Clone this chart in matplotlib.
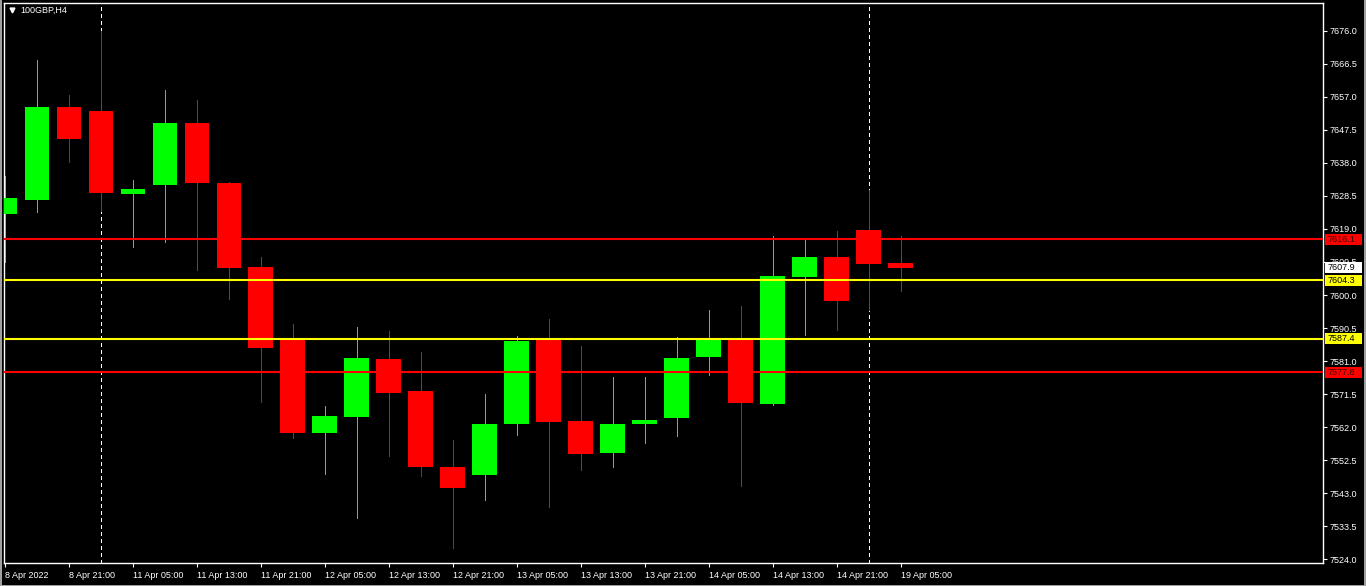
import numpy as np
import matplotlib.pyplot as plt
from matplotlib.patches import Rectangle
import matplotlib.transforms as mtransforms

# --- data: 4H candles ---
opens = [7623.4, 7627.3, 7654.1, 7653.0, 7629.1, 7631.7, 7649.5, 7632.2, 7608.1, 7587.0,
         7560.3, 7564.9, 7581.6, 7572.4, 7550.5, 7548.2, 7562.9, 7587.6, 7563.7, 7554.5,
         7562.9, 7564.6, 7582.2, 7587.6, 7568.6, 7605.2, 7610.9, 7618.7, 7609.2]
highs = [7634.3, 7667.6, 7657.6, 7676.0, 7633.1, 7659.0, 7656.1, 7632.5, 7610.9, 7591.7,
         7568.0, 7590.8, 7589.6, 7583.6, 7558.3, 7571.5, 7588.2, 7593.1, 7585.3, 7576.4,
         7576.4, 7587.9, 7595.7, 7596.8, 7617.0, 7615.8, 7618.4, 7630.2, 7617.0]
lows = [7609.6, 7623.9, 7638.3, 7624.2, 7613.8, 7615.3, 7607.2, 7598.8, 7569.2, 7558.8,
        7548.5, 7535.8, 7553.7, 7547.9, 7527.2, 7541.0, 7559.7, 7539.0, 7549.6, 7550.5,
        7557.4, 7559.4, 7577.0, 7545.0, 7568.4, 7588.5, 7589.9, 7595.7, 7601.2]
closes = [7627.9, 7654.1, 7644.9, 7629.4, 7630.5, 7649.5, 7632.2, 7607.8, 7584.7, 7560.3,
          7565.2, 7581.9, 7571.8, 7550.5, 7544.4, 7562.9, 7586.8, 7563.4, 7554.2, 7562.9,
          7564.0, 7581.9, 7587.6, 7568.9, 7605.5, 7610.9, 7598.3, 7608.9, 7607.9]

date_labels = ["8 Apr 2022", "8 Apr 21:00", "11 Apr 05:00", "11 Apr 13:00", "11 Apr 21:00",
               "12 Apr 05:00", "12 Apr 13:00", "12 Apr 21:00", "13 Apr 05:00", "13 Apr 13:00",
               "13 Apr 21:00", "14 Apr 05:00", "14 Apr 13:00", "14 Apr 21:00", "19 Apr 05:00"]

# horizontal levels (price, colour)
levels = [7616.1, 7604.3, 7587.4, 7577.8]
level_colors = ["#ff0000", "#ffff00", "#ffff00", "#ff0000"]
last_price = 7607.9
separators = [3, 27]  # candles with the dashed vertical lines

y_ticks = np.arange(7524.0, 7676.1, 9.5)

GREEN = "#00ff00"
RED = "#ff0000"
FONT = "Liberation Sans"
FS = 6.5

W, H = 1366, 586
fig = plt.figure(figsize=(W / 100, H / 100), dpi=100, facecolor="black")
ax = fig.add_axes([4 / W, 1 - 563 / H, (1323 - 4) / W, (563 - 3) / H])
ax.set_facecolor("black")

x = np.arange(len(opens))
o = np.array(opens)
c = np.array(closes)
cols = [GREEN if cc >= oo else RED for oo, cc in zip(o, c)]

# wicks then bodies, 1 px wicks like the terminal
ax.vlines(x, lows, highs, colors=cols, linewidth=0.72, antialiased=False, zorder=2)
ax.bar(x, np.abs(c - o), bottom=np.minimum(o, c), width=0.78, color=cols,
       linewidth=0, antialiased=False, zorder=3)

for lv, col in zip(levels, level_colors):
    ax.axhline(lv, color=col, linewidth=1.5, zorder=4)

for s in separators:
    ax.axvline(s, color="white", linewidth=0.72, linestyle=(0, (4, 4)),
               antialiased=False, zorder=1)

ax.set_xlim(-0.031, 41.19)
ax.set_ylim(7522.86, 7684.05)

# axes, ticks
for sp in ax.spines.values():
    sp.set_color("white")
    sp.set_linewidth(1)
ax.yaxis.tick_right()
ax.set_yticks(y_ticks)
ax.set_yticklabels([f"{v:.1f}" for v in y_ticks], fontname=FONT, fontsize=FS)
ax.set_xticks(x[::2])
ax.set_xticklabels(date_labels, fontname=FONT, fontsize=FS, ha="left")
ax.tick_params(axis="both", colors="white", length=3, width=0.8, direction="out", pad=2)
ax.tick_params(axis="x", pad=3)

# price label boxes on the right axis
trans = mtransforms.blended_transform_factory(ax.transAxes, ax.transData)
box_x = (1325 - 4) / 1319
box_w = 37 / 1319
box_h = 11 / 3.474
tags = list(zip(levels, level_colors, ["#400000", "black", "black", "#400000"]))
tags.append((last_price, "white", "black"))
for val, face, tcol in tags:
    ax.add_patch(Rectangle((box_x, val - box_h / 2), box_w, box_h, transform=trans,
                           facecolor=face, edgecolor="none", clip_on=False, zorder=6))
    ax.text(box_x + 3 / 1319, val, f"{val:.1f}", transform=trans, color=tcol,
            fontname=FONT, fontsize=FS, va="center", ha="left", zorder=7, clip_on=False)

# symbol caption
ax.plot([8 / 1319], [1 - 7 / 560], marker="v", color="white", markersize=3.5,
        transform=ax.transAxes, clip_on=False)
ax.text(16 / 1319, 1 - 7 / 560, "100GBP,H4", transform=ax.transAxes, color="white",
        fontname=FONT, fontsize=FS, va="center", ha="left")

# thin grey window borders
fig.patches.append(Rectangle((0, 0), 2 / W, 1, transform=fig.transFigure,
                             facecolor="#a0a0a0", edgecolor="none"))
fig.patches.append(Rectangle((1 - 2 / W, 0), 2 / W, 1, transform=fig.transFigure,
                             facecolor="#a0a0a0", edgecolor="none"))
fig.patches.append(Rectangle((0, 0), 1, 1.5 / H, transform=fig.transFigure,
                             facecolor="#a0a0a0", edgecolor="none"))

fig.savefig("out.png", dpi=100, facecolor="black")
